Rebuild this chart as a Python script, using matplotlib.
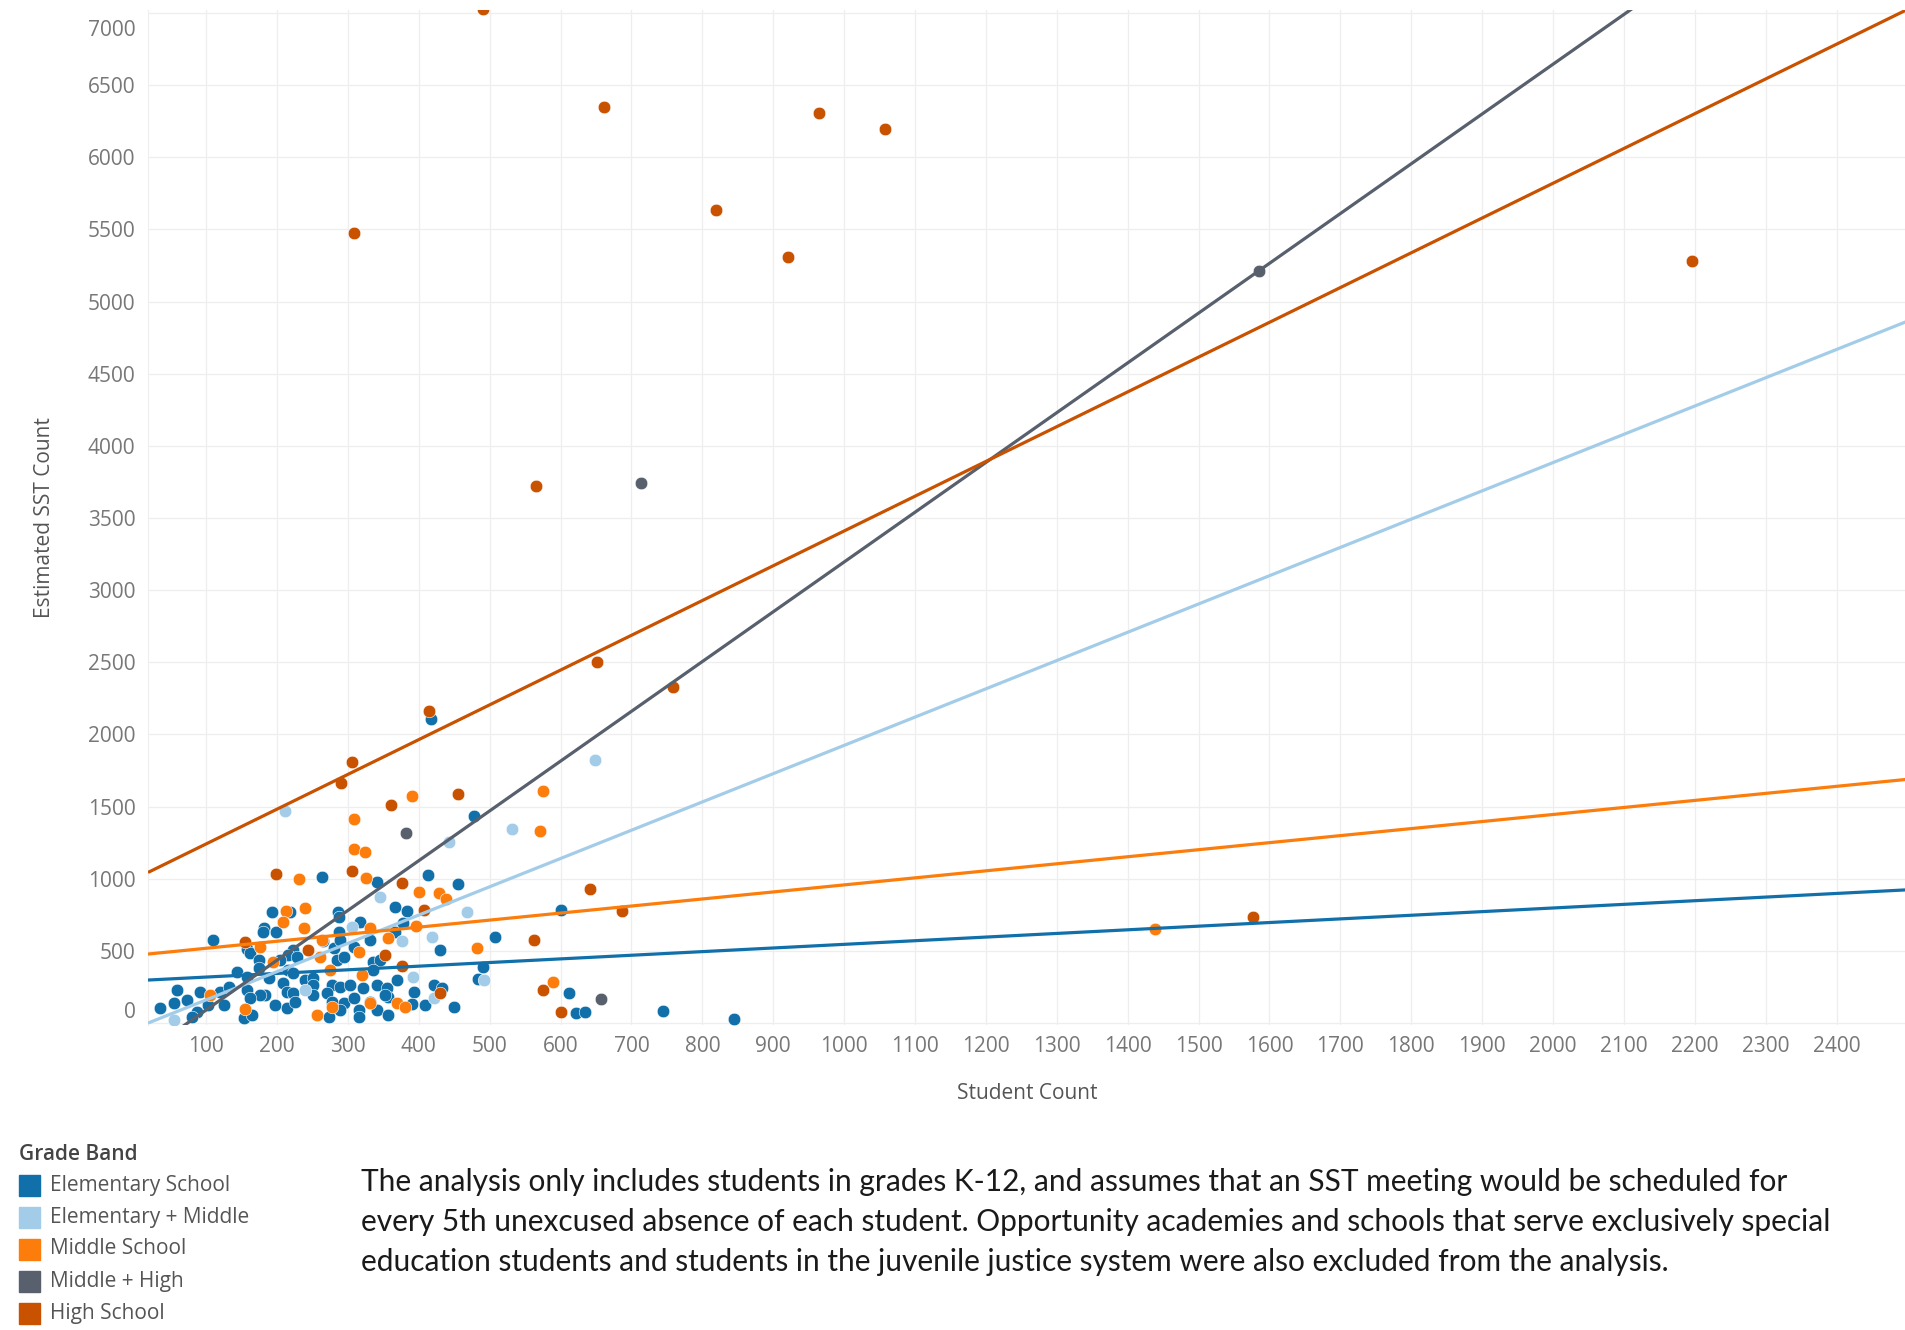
import numpy as np
import matplotlib.pyplot as plt
from matplotlib.patches import Rectangle
from matplotlib.transforms import ScaledTranslation

plt.rcParams['font.family'] = ['Open Sans', 'DejaVu Sans']

groups = ['Elementary School', 'Elementary + Middle', 'Middle School',
          'Middle + High', 'High School']
colors = ['#1170aa', '#a3cce9', '#fc7d0b', '#57606c', '#c85200']

# student count (x) and estimated SST count (y)
es_x = [263, 341, 367, 193, 219, 286, 288, 181, 180, 199, 317, 287, 110, 157, 162,
        265, 223, 216, 204, 228, 280, 289, 308, 331, 284, 294, 336, 345, 367, 174,
        174, 143, 157, 188, 216, 223, 240, 251, 336, 59, 92, 120, 132, 157, 183,
        176, 209, 214, 223, 251, 251, 277, 289, 303, 322, 341, 355, 357, 54, 73,
        35, 103, 125, 162, 197, 214, 226, 270, 277, 294, 308, 315, 331, 341, 352,
        357, 87, 80, 153, 165, 273, 289, 315,
        413, 456, 383, 378, 430, 508, 601, 491, 483, 369, 421, 433, 393, 390, 409,
        449, 612, 622, 634, 417, 478, 744, 844]
es_y = [1013, 979, 806, 766, 766, 766, 737, 656, 633, 633, 697, 633, 575, 510, 483,
        565, 506, 471, 436, 460, 517, 575, 524, 575, 436, 460, 425, 436, 633, 436,
        379, 356, 321, 310, 367, 344, 298, 310, 367, 229, 217, 217, 252, 229, 194,
        194, 275, 217, 206, 263, 194, 263, 252, 263, 240, 263, 240, 182, 136, 159,
        102, 125, 125, 171, 125, 102, 148, 206, 148, 136, 171, 90, 148, 90, 194,
        56, 79, 44, 33, 56, 44, 90, 44,
        1025, 963, 778, 690, 506, 598, 783, 390, 302, 298, 263, 240, 217, 132, 125,
        113, 206, 67, 79, 2105, 1436, 85, 26]

em_x = [345, 306, 240, 54, 468, 376, 419, 492, 392, 421, 211, 649, 532, 443]
em_y = [870, 667, 229, 21, 771, 568, 598, 296, 316, 171, 1468, 1821, 1344, 1256]

ms_x = [231, 326, 212, 239, 209, 238, 331, 176, 263, 261, 315, 357, 275, 320, 106,
        155, 256, 277, 331, 369, 400, 428, 439, 396, 482, 381, 590, 309, 309, 324,
        391, 575, 571, 1438, 195]
ms_y = [1000, 1002, 778, 799, 702, 660, 656, 524, 575, 460, 494, 586, 367, 333, 194,
        95, 56, 113, 136, 136, 905, 898, 859, 674, 522, 113, 286, 1417, 1203, 1182,
        1572, 1607, 1330, 653, 425]

mh_x = [657, 382, 714, 1585]
mh_y = [164, 1318, 3744, 5210]

hs_x = [198, 306, 155, 244, 353, 376, 407, 562, 642, 687, 376, 430, 575, 601, 306,
        290, 361, 415, 456, 651, 759, 661, 965, 1058, 819, 921, 566, 490, 309, 2196,
        1577]
hs_y = [1032, 1055, 563, 506, 471, 972, 783, 575, 928, 778, 395, 206, 229, 79, 1810,
        1660, 1510, 2163, 1586, 2502, 2329, 6346, 6304, 6198, 5635, 5307, 3721, 7025,
        5478, 5284, 737]

# linear trend line per grade band: slope, intercept
trend_slope = [0.252, 1.96, 0.488, 3.45, 2.41]
trend_icept = [293, -36, 469, -255, 1000]

x_ticks = list(range(100, 2500, 100))
y_ticks = list(range(0, 7500, 500))

note = ("The analysis only includes students in grades K-12, and assumes that an SST meeting would be scheduled for\n"
        "every 5th unexcused absence of each student. Opportunity academies and schools that serve exclusively special\n"
        "education students and students in the juvenile justice system were also excluded from the analysis.")

W, H = 1906, 1330
fig = plt.figure(figsize=(W / 100, H / 100), dpi=100)
ax = fig.add_axes([148 / W, 1 - 1025 / H, (W - 148) / W, (1025 - 10) / H])

xs = [es_x, em_x, ms_x, mh_x, hs_x]
ys = [es_y, em_y, ms_y, mh_y, hs_y]
for gx, gy, c in zip(xs, ys, colors):
    ax.scatter(gx, gy, s=82, color=c, edgecolors='white', linewidths=0.4, zorder=3)

xlim = (18, 2498)
line_x = np.array(xlim)
for m, b, c in zip(trend_slope, trend_icept, colors):
    ax.plot(line_x, m * line_x + b, color=c, lw=2.3, zorder=4, solid_capstyle='butt')

ax.set_xlim(*xlim)
ax.set_ylim(-14, 7021)
ax.set_xticks(x_ticks)
ax.set_yticks(y_ticks)
ax.grid(True, color='#eeeeee', lw=0.9, zorder=0)
ax.set_axisbelow(True)
for sp in ['top', 'right', 'bottom']:
    ax.spines[sp].set_visible(False)
ax.spines['left'].set_color('#eeeeee')
ax.tick_params(axis='both', length=0, labelsize=15, labelcolor='#777777')
ax.tick_params(axis='y', pad=9)
ax.tick_params(axis='x', pad=8)

# edge labels pushed inward like the original
ylabs = ax.get_yticklabels()
ylabs[0].set_verticalalignment('bottom')
ylabs[-1].set_verticalalignment('top')
ylabs[-1].set_transform(ylabs[-1].get_transform()
                        + ScaledTranslation(0, -0.07, fig.dpi_scale_trans))

ax.set_xlabel('Student Count', fontsize=15, color='#555555')
ax.xaxis.set_label_coords(0.5, -0.057)
ax.set_ylabel('Estimated SST Count', fontsize=15, color='#555555')
ax.yaxis.set_label_coords(-0.053, 0.5)

# legend
fig.text(19 / W, 1 - 1155 / H, 'Grade Band', fontsize=15, color='#444444',
         fontweight='semibold', va='center', ha='left')
item_y = [1185, 1217, 1249, 1281, 1313]
for g, c, yy in zip(groups, colors, item_y):
    fig.add_artist(Rectangle((19 / W, 1 - (yy + 10.5) / H), 21 / W, 21 / H,
                             transform=fig.transFigure, color=c))
    fig.text(50 / W, 1 - yy / H, g, fontsize=15, color='#555555', va='center', ha='left')

fig.text(361 / W, 1 - 1222 / H, note, fontsize=21.5, color='#1a1a1a', va='center',
         ha='left', linespacing=1.5, family=['Lato', 'DejaVu Sans'])

fig.savefig('out.png', dpi=100)
